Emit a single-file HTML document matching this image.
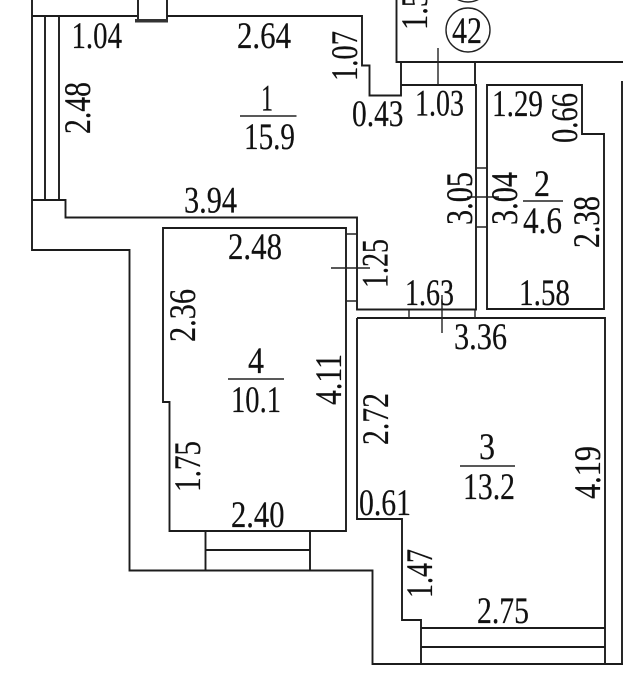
<!DOCTYPE html>
<html><head><meta charset="utf-8"><style>
html,body{margin:0;padding:0;background:#fff;width:623px;height:699px;overflow:hidden}
svg{display:block}
text{font-family:"Liberation Serif",serif;font-size:37.5px;fill:#111;stroke:#111;stroke-width:.2;text-rendering:geometricPrecision}
.w{fill:none;stroke:#1c1c1c;stroke-width:1.9}
.t{fill:none;stroke:#222;stroke-width:1.4}
</style></head><body>
<svg width="623" height="699" viewBox="0 0 623 699" xmlns="http://www.w3.org/2000/svg">
<!-- outer walls -->
<path class="w" d="M32 0V250H129.500V570.500H372.500V664H623"/>
<path class="w" d="M32 16H137M167 16H362V65.500H369.500V95.500H401V62M396.500 0V62H623"/>
<path class="w" d="M45 16V200M59 16V200M32 200H65.500V217.500H357V309.500H476V85H401"/>
<path class="w" d="M475 62V85"/>
<path class="w" d="M138 0V19M167 0V19"/>
<rect x="135" y="19" width="33" height="3.500" fill="#333"/>
<path class="w" d="M622 81V664"/>
<!-- room 2 -->
<path class="w" d="M487 85H582V134H604V309H487Z"/>
<path class="t" d="M476 168H487M476 227H487"/>
<!-- room 4 -->
<path class="w" d="M163 228H346V531H169.500V402H163Z"/>
<path class="t" d="M346 234H357M346 301H357"/>
<path class="w" d="M205.500 531V570M310 531V570M205.500 550H310"/>
<!-- room 3 -->
<path class="w" d="M357 318H605V664M357 318V519H402V620H421V664M421 628H605M421 647H605"/>
<path class="t" d="M409 310V318M475 310V318"/>
<!-- leaders -->
<path class="t" d="M438 48V85M467 197H499M331 268H370M442 295V333"/>
<!-- fraction bars -->
<path class="t" d="M240 116H296.500M523 201H563M228 379H284M460 466H515"/>
<!-- circles -->
<circle class="t" cx="468" cy="30" r="22"/>
<circle class="t" cx="468" cy="-20" r="22"/>
<!-- horizontal labels -->
<text x="71.500" y="48" textLength="50.500" lengthAdjust="spacingAndGlyphs">1.04</text>
<text x="237" y="48" textLength="54" lengthAdjust="spacingAndGlyphs">2.64</text>
<text x="261" y="110.500" textLength="12" lengthAdjust="spacingAndGlyphs">1</text>
<text x="244" y="149" textLength="51" lengthAdjust="spacingAndGlyphs">15.9</text>
<text x="184" y="212.500" textLength="53" lengthAdjust="spacingAndGlyphs">3.94</text>
<text x="415" y="115.500" textLength="49" lengthAdjust="spacingAndGlyphs">1.03</text>
<text x="352" y="126" textLength="51.500" lengthAdjust="spacingAndGlyphs">0.43</text>
<text x="452" y="43" textLength="30" lengthAdjust="spacingAndGlyphs">42</text>
<text x="492" y="116" textLength="51" lengthAdjust="spacingAndGlyphs">1.29</text>
<text x="534" y="196" textLength="16" lengthAdjust="spacingAndGlyphs">2</text>
<text x="523" y="233" textLength="39" lengthAdjust="spacingAndGlyphs">4.6</text>
<text x="228" y="259" textLength="54" lengthAdjust="spacingAndGlyphs">2.48</text>
<text x="248" y="373" textLength="16" lengthAdjust="spacingAndGlyphs">4</text>
<text x="231" y="412" textLength="50" lengthAdjust="spacingAndGlyphs">10.1</text>
<text x="405" y="305" textLength="49" lengthAdjust="spacingAndGlyphs">1.63</text>
<text x="519" y="305" textLength="51" lengthAdjust="spacingAndGlyphs">1.58</text>
<text x="454" y="349" textLength="53" lengthAdjust="spacingAndGlyphs">3.36</text>
<text x="479" y="459" textLength="16" lengthAdjust="spacingAndGlyphs">3</text>
<text x="463" y="499" textLength="52" lengthAdjust="spacingAndGlyphs">13.2</text>
<text x="359" y="515" textLength="52" lengthAdjust="spacingAndGlyphs">0.61</text>
<text x="477" y="623" textLength="52" lengthAdjust="spacingAndGlyphs">2.75</text>
<text x="231" y="527" textLength="53.500" lengthAdjust="spacingAndGlyphs">2.40</text>
<!-- rotated labels -->
<text transform="translate(90,134) rotate(-90)" textLength="52" lengthAdjust="spacingAndGlyphs">2.48</text>
<text transform="translate(357,81) rotate(-90)" textLength="50" lengthAdjust="spacingAndGlyphs">1.07</text>
<text transform="translate(427,30) rotate(-90)" textLength="38" lengthAdjust="spacingAndGlyphs">1.5</text>
<text transform="translate(577,143) rotate(-90)" textLength="50" lengthAdjust="spacingAndGlyphs">0.66</text>
<text transform="translate(472,225) rotate(-90)" textLength="53" lengthAdjust="spacingAndGlyphs">3.05</text>
<text transform="translate(517,225) rotate(-90)" textLength="53" lengthAdjust="spacingAndGlyphs">3.04</text>
<text transform="translate(599,248) rotate(-90)" textLength="52" lengthAdjust="spacingAndGlyphs">2.38</text>
<text transform="translate(195,342) rotate(-90)" textLength="53" lengthAdjust="spacingAndGlyphs">2.36</text>
<text transform="translate(341,405) rotate(-90)" textLength="51" lengthAdjust="spacingAndGlyphs">4.11</text>
<text transform="translate(387.500,288) rotate(-90)" textLength="49" lengthAdjust="spacingAndGlyphs">1.25</text>
<text transform="translate(388,445) rotate(-90)" textLength="52" lengthAdjust="spacingAndGlyphs">2.72</text>
<text transform="translate(600,499) rotate(-90)" textLength="53" lengthAdjust="spacingAndGlyphs">4.19</text>
<text transform="translate(432,598) rotate(-90)" textLength="49" lengthAdjust="spacingAndGlyphs">1.47</text>
<text transform="translate(200,492) rotate(-90)" textLength="51" lengthAdjust="spacingAndGlyphs">1.75</text>
</svg>
</body></html>
